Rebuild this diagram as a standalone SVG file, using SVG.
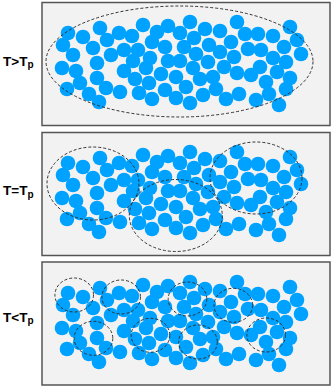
<svg xmlns="http://www.w3.org/2000/svg" xmlns:xlink="http://www.w3.org/1999/xlink" width="333" height="388" viewBox="0 0 333 388">
<style>
.panel{fill:#f2f2f2;stroke:#555;stroke-width:1.5}
.p{fill:#00a2ff}
.d{fill:none;stroke:#333;stroke-width:1;stroke-dasharray:3 2}
.lab{font-family:"Liberation Sans",Arial,sans-serif;font-weight:bold;font-size:13.5px;fill:#000}
.sub{font-size:10px}
</style>
<defs>
<g id="particles" class="p">
<circle cx="68" cy="33" r="7.3"/><circle cx="63" cy="45" r="7.3"/><circle cx="83" cy="37" r="7.3"/><circle cx="100" cy="28" r="7.3"/>
<circle cx="73" cy="55" r="7.3"/><circle cx="93" cy="48" r="7.3"/><circle cx="107" cy="40" r="7.3"/><circle cx="119" cy="33" r="7.3"/>
<circle cx="132" cy="36" r="7.3"/><circle cx="143" cy="25" r="7.3"/><circle cx="157" cy="32" r="7.3"/><circle cx="111" cy="55" r="7.3"/>
<circle cx="124" cy="50" r="7.3"/><circle cx="138" cy="50" r="7.3"/><circle cx="152" cy="42" r="7.3"/><circle cx="97" cy="63" r="7.3"/>
<circle cx="133" cy="61" r="7.3"/><circle cx="150" cy="58" r="7.3"/><circle cx="62" cy="68" r="7.3"/><circle cx="76" cy="71" r="7.3"/>
<circle cx="124" cy="71" r="7.3"/><circle cx="146" cy="68" r="7.3"/><circle cx="97" cy="78" r="7.3"/><circle cx="80" cy="83" r="7.3"/>
<circle cx="135" cy="79" r="7.3"/><circle cx="149" cy="83" r="7.3"/><circle cx="161" cy="74" r="7.3"/><circle cx="67" cy="89" r="7.3"/>
<circle cx="89" cy="94" r="7.3"/><circle cx="106" cy="88" r="7.3"/><circle cx="120" cy="92" r="7.3"/><circle cx="139" cy="93" r="7.3"/>
<circle cx="152" cy="99" r="7.3"/><circle cx="99" cy="102" r="7.3"/>
<circle cx="168" cy="26" r="7.3"/><circle cx="180" cy="33" r="7.3"/><circle cx="190" cy="22" r="7.3"/><circle cx="205" cy="29" r="7.3"/>
<circle cx="220" cy="31" r="7.3"/><circle cx="237" cy="22" r="7.3"/><circle cx="245" cy="34" r="7.3"/><circle cx="258" cy="34" r="7.3"/>
<circle cx="273" cy="36" r="7.3"/><circle cx="290" cy="27" r="7.3"/><circle cx="297" cy="40" r="7.3"/><circle cx="165" cy="47" r="7.3"/>
<circle cx="184" cy="47" r="7.3"/><circle cx="194" cy="38" r="7.3"/><circle cx="209" cy="45" r="7.3"/><circle cx="231" cy="42" r="7.3"/>
<circle cx="196" cy="54" r="7.3"/><circle cx="220" cy="52" r="7.3"/><circle cx="234" cy="57" r="7.3"/><circle cx="248" cy="49" r="7.3"/>
<circle cx="261" cy="50" r="7.3"/><circle cx="284" cy="47" r="7.3"/><circle cx="273" cy="58" r="7.3"/><circle cx="301" cy="54" r="7.3"/>
<circle cx="168" cy="61" r="7.3"/><circle cx="180" cy="61" r="7.3"/><circle cx="208" cy="62" r="7.3"/><circle cx="193" cy="68" r="7.3"/>
<circle cx="224" cy="67" r="7.3"/><circle cx="260" cy="67" r="7.3"/><circle cx="286" cy="62" r="7.3"/><circle cx="277" cy="72" r="7.3"/>
<circle cx="176" cy="77" r="7.3"/><circle cx="200" cy="79" r="7.3"/><circle cx="213" cy="77" r="7.3"/><circle cx="237" cy="73" r="7.3"/>
<circle cx="251" cy="75" r="7.3"/><circle cx="290" cy="78" r="7.3"/><circle cx="266" cy="82" r="7.3"/><circle cx="165" cy="90" r="7.3"/>
<circle cx="186" cy="87" r="7.3"/><circle cx="216" cy="89" r="7.3"/><circle cx="286" cy="89" r="7.3"/><circle cx="176" cy="98" r="7.3"/>
<circle cx="203" cy="95" r="7.3"/><circle cx="239" cy="94" r="7.3"/><circle cx="269" cy="94" r="7.3"/><circle cx="190" cy="103" r="7.3"/>
<circle cx="226" cy="99" r="7.3"/><circle cx="256" cy="100" r="7.3"/><circle cx="279" cy="105" r="7.3"/>
</g>
</defs>

<g id="panel-above">
<rect class="panel" x="42" y="2.5" width="288" height="123"/>
<use xlink:href="#particles" href="#particles"/>
<text class="lab" x="3" y="65.5">T&gt;T<tspan class="sub" dy="2.5">p</tspan></text>
</g>

<g id="panel-equal">
<rect class="panel" x="42" y="132.5" width="288" height="123"/>
<use xlink:href="#particles" href="#particles" y="130"/>
<text class="lab" x="3" y="195">T=T<tspan class="sub" dy="2.5">p</tspan></text>
</g>

<g id="panel-below">
<rect class="panel" x="42" y="262" width="288" height="123"/>
<use xlink:href="#particles" href="#particles" y="260"/>
<text class="lab" x="3" y="321.5">T&lt;T<tspan class="sub" dy="2.5">p</tspan></text>
</g>

<g id="clusters">
<ellipse class="d" cx="179.5" cy="61.5" rx="133.5" ry="55.5"/>
<ellipse class="d" cx="93" cy="183.5" rx="46" ry="36.5"/>
<ellipse class="d" cx="175.8" cy="215.5" rx="46.5" ry="36"/>
<ellipse class="d" cx="256" cy="178" rx="46" ry="36"/>
<ellipse class="d" cx="74.2" cy="295" rx="19.3" ry="17"/>
<ellipse class="d" cx="121.2" cy="297" rx="19.3" ry="17"/>
<ellipse class="d" cx="93.5" cy="338.3" rx="19.3" ry="17"/>
<ellipse class="d" cx="150.5" cy="335.3" rx="19.3" ry="17"/>
<ellipse class="d" cx="187.5" cy="299" rx="19.3" ry="17"/>
<ellipse class="d" cx="233.3" cy="305.3" rx="19.3" ry="17"/>
<ellipse class="d" cx="198" cy="342" rx="19.3" ry="17"/>
<ellipse class="d" cx="266.2" cy="335" rx="19.3" ry="17"/>
</g>
</svg>
